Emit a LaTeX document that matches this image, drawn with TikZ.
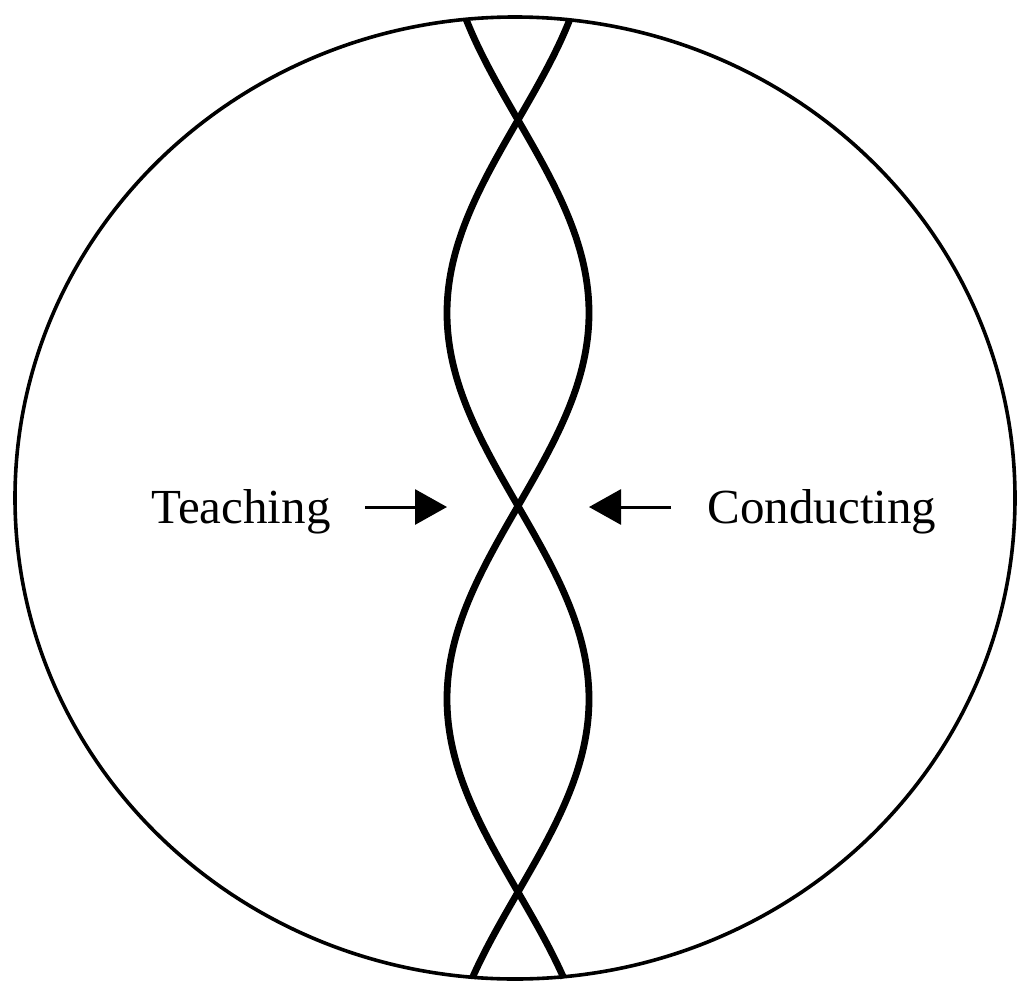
\documentclass[tikz,border=0pt]{standalone}
\usepackage{fontspec}
\setmainfont{Liberation Serif}
\usetikzlibrary{arrows.meta}
\begin{document}
\begin{tikzpicture}[x=0.5pt,y=-0.5pt,
  rim/.style={line width=1.8pt},
  strand/.style={line width=3.4pt},
  label/.style={font=\fontsize{24.5}{28}\selectfont, inner sep=0pt, anchor=base},
  pointer/.style={line width=1.5pt, -{Triangle[length=16pt,width=17.5pt]}}]
\useasboundingbox (0,0) rectangle (1017,985);
\draw[rim] (515,498) ellipse [x radius=500, y radius=481];
\draw[strand, domain=19:978, samples=200, smooth, variable=\t]
  plot ({518+71*sin(0.4663*(\t-120))}, \t);
\draw[strand, domain=19:978, samples=200, smooth, variable=\t]
  plot ({518-71*sin(0.4663*(\t-120))}, \t);
\node[label] (teach) at (241,523) {Teaching};
\node[label] (cond) at (822,523) {Conducting};
\coordinate (ta) at (365,507);
\coordinate (tb) at (447,507);
\coordinate (ca) at (671,507);
\coordinate (cb) at (589,507);
\draw[pointer] (ta) -- (tb);
\draw[pointer] (ca) -- (cb);
\end{tikzpicture}
\end{document}
